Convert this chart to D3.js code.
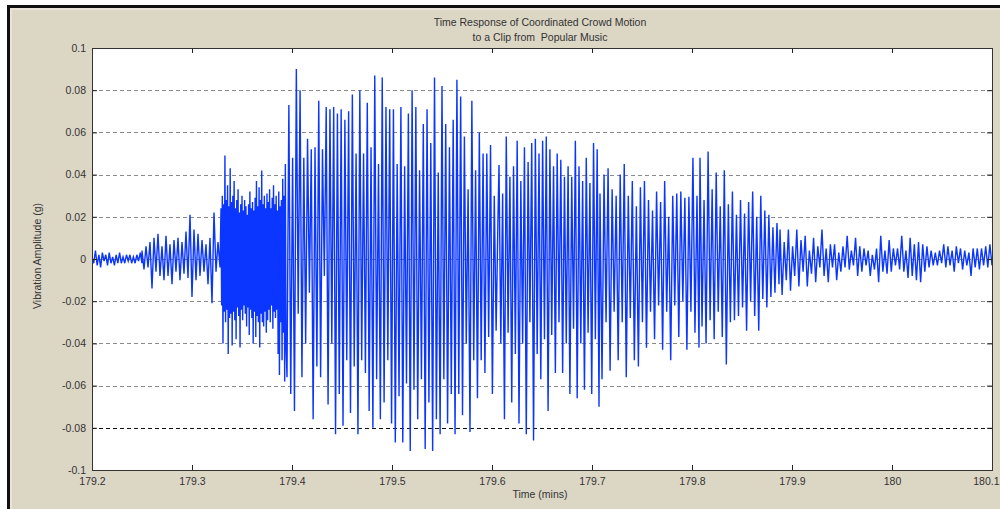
<!DOCTYPE html>
<html>
<head>
<meta charset="utf-8">
<script src="https://cdn.jsdelivr.net/npm/d3@7"></script>
<style>
  html, body { margin: 0; padding: 0; background: #ffffff; }
  svg { display: block; }
  text { font-family: "Liberation Sans", Arial, Helvetica, sans-serif; fill: #333333; white-space: pre; }
</style>
</head>
<body>
<svg id="chart" width="1000" height="509"></svg>
<script>
// ---- Recorded accelerometer trace, stored as successive extrema (g) per time span (mins) ----
const quietSpan = [179.200, 179.250];
const quietAmp = [0.001,-0.002,0.004,-0.003,0.002,-0.004,0.003,-0.001,0.002,-0.003,0.003,-0.002,0.001,-0.003,0.002,
  -0.002,0.003,-0.002,0.001,-0.002,0.002,-0.001,0.002,-0.002,0.001,-0.002,0.002,-0.001,0.003,-0.002];

const onsetSpan = [179.250, 179.328];
const onsetAmp = [0.004,-0.005,0.006,-0.004,0.008,-0.014,0.010,-0.006,0.012,-0.008,0.006,-0.010,0.011,-0.008,0.007,
  -0.012,0.009,-0.006,0.010,-0.010,0.008,-0.007,0.013,-0.009,0.021,-0.018,0.014,-0.010,0.012,-0.008,0.009,-0.006,
  0.007,-0.012,0.010,-0.021,0.022,-0.006,0.008,-0.004];

const burstSpan = [179.329, 179.394];
const burstAmp = [0.024,-0.022,0.030,-0.040,0.026,-0.025,0.049,-0.030,0.028,-0.024,0.035,-0.045,0.025,-0.028,
  0.043,-0.026,0.027,-0.041,0.030,-0.025,0.037,-0.029,0.024,-0.038,0.028,-0.023,0.033,-0.027,0.022,-0.042,
  0.026,-0.024,0.030,-0.029,0.023,-0.022,0.028,-0.026,0.025,-0.032,0.021,-0.023,0.026,-0.036,0.032,-0.024,
  0.024,-0.028,0.027,-0.040,0.023,-0.025,0.029,-0.037,0.037,-0.027,0.025,-0.030,0.034,-0.042,0.028,-0.026,
  0.042,-0.030,0.026,-0.032,0.030,-0.025,0.024,-0.035,0.031,-0.029,0.027,-0.024,0.033,-0.030,0.024,-0.022,
  0.029,-0.033,0.035,-0.025,0.026,-0.028,0.030,-0.024,0.023,-0.045,0.032,-0.055,0.025,-0.030,0.028,-0.048,
  0.038,-0.035,0.030,-0.058,0.045,-0.040];

const swaySpanA = [179.395, 179.606];
const swayAmpA = [-0.056,0.073,-0.064,0.048,-0.072,0.090,-0.026,0.080,-0.056,0.048,-0.040,0.057,-0.016,0.052,
  -0.076,0.053,-0.051,0.075,-0.056,0.052,-0.008,0.072,-0.069,0.071,-0.040,0.072,-0.083,0.069,-0.064,0.071,
  -0.079,0.066,-0.048,0.070,-0.073,0.078,-0.051,0.050,-0.083,0.080,-0.048,0.050,-0.054,0.074,-0.072,0.053,
  -0.080,0.087,-0.057,0.045,-0.076,0.086,-0.068,0.072,-0.048,0.071,-0.078,0.071,-0.087,0.045,-0.065,0.072,
  -0.087,0.044,-0.059,0.069,-0.091,0.080,-0.062,0.072,-0.076,0.042,-0.057,0.064,-0.090,0.071,-0.068,0.055,
  -0.091,0.086,-0.076,0.041,-0.083,0.082,-0.057,0.064,-0.078,0.053,-0.064,0.066,-0.083,0.085,-0.064,0.077,
  -0.074,0.058,-0.040,0.033,-0.082,0.075,-0.048,0.042,-0.066,0.060,-0.048,0.050,-0.054,0.050,-0.037,0.054,
  -0.064,0.030,-0.034,0.020];

const swaySpanB = [179.607, 179.707];
const swayAmpB = [0.0445,-0.040,0.031,-0.076,0.058,-0.035,0.039,-0.068,0.044,-0.045,0.056,-0.078,0.037,-0.040,
  0.053,-0.083,0.046,-0.030,0.055,-0.086,0.057,-0.045,0.050,-0.057,0.056,-0.038,0.058,-0.072,0.052,-0.036,
  0.044,-0.054,0.050,-0.030,0.047,-0.054,0.039,-0.040,0.044,-0.064,0.039,-0.033,0.056,-0.066,0.044,-0.040,
  0.037,-0.062,0.048,-0.035,0.036,-0.064,0.055,-0.038,0.052,-0.070];

const swaySpanC = [179.708, 179.807];
const swayAmpC = [0.031,-0.057,0.040,-0.030,0.043,-0.053,0.033,-0.025,0.030,-0.048,0.040,-0.030,0.045,-0.056,
  0.030,-0.028,0.037,-0.048,0.025,-0.051,0.034,-0.030,0.037,-0.042,0.028,-0.025,0.023,-0.038,0.032,-0.022,
  0.027,-0.043,0.037,-0.025,0.020,-0.048,0.030,-0.022,0.031,-0.037,0.032,-0.020,0.029,-0.043,0.0295,-0.025,
  0.048,-0.035,0.030,-0.042];

const swaySpanD = [179.808, 179.887];
const swayAmpD = [0.048,-0.032,0.028,-0.040,0.051,-0.029,0.033,-0.038,0.041,-0.025,0.025,-0.037,0.042,-0.050,
  0.026,-0.030,0.032,-0.029,0.021,-0.027,0.028,-0.023,0.0215,-0.034,0.027,-0.020,0.032,-0.027,0.020,-0.034,
  0.030,-0.019,0.023,-0.023,0.021,-0.018,0.015,-0.016,0.017,-0.012];

const tailSpan = [179.888, 180.100];
const tailAmp = [0.014,-0.017,0.008,-0.010,0.014,-0.015,0.006,-0.008,0.014,-0.013,0.009,-0.006,0.011,-0.013,
  0.004,-0.007,0.010,-0.011,0.006,-0.004,0.014,-0.008,0.005,-0.011,0.007,-0.004,0.007,-0.010,0.003,-0.006,
  0.006,-0.004,0.011,-0.005,0.004,-0.003,0.010,-0.008,0.006,-0.006,0.005,-0.003,0.004,-0.008,0.002,-0.005,
  0.005,-0.011,0.011,-0.006,0.004,-0.007,0.009,-0.006,0.005,-0.003,0.005,-0.005,0.011,-0.006,0.004,-0.009,
  0.010,-0.008,0.007,-0.010,0.008,-0.011,0.007,-0.006,0.006,-0.004,0.004,-0.003,0.003,-0.003,0.004,-0.002,
  0.007,-0.004,0.006,-0.003,0.004,-0.006,0.006,-0.002,0.005,-0.005,0.004,-0.003,0.003,-0.008,0.005,-0.004,
  0.005,-0.005,0.005,-0.003,0.006,-0.004,0.007,-0.003];

// ---- Axis ticks ----
const xTicks = [179.2, 179.3, 179.4, 179.5, 179.6, 179.7, 179.8, 179.9, 180.0, 180.1];
const xTickLabels = ["179.2", "179.3", "179.4", "179.5", "179.6", "179.7", "179.8", "179.9", "180", "180.1"];
const yTicks = [0.1, 0.08, 0.06, 0.04, 0.02, 0, -0.02, -0.04, -0.06, -0.08, -0.1];
const yTickLabels = ["0.1", "0.08", "0.06", "0.04", "0.02", "0", "-0.02", "-0.04", "-0.06", "-0.08", "-0.1"];

const titleLines = ["Time Response of Coordinated Crowd Motion", "to a Clip from  Popular Music"];
const xTitle = "Time (mins)";
const yTitle = "Vibration Amplitude (g)";

// ---- Build the sampled series: extrema spread evenly across each span ----
function spread(span, amps) {
  const n = amps.length;
  return amps.map((v, i) => ({ t: span[0] + (span[1] - span[0]) * i / (n - 1), v }));
}
const series = [].concat(
  spread(quietSpan, quietAmp),
  spread(onsetSpan, onsetAmp),
  spread(burstSpan, burstAmp),
  spread(swaySpanA, swayAmpA),
  spread(swaySpanB, swayAmpB),
  spread(swaySpanC, swayAmpC),
  spread(swaySpanD, swayAmpD),
  spread(tailSpan, tailAmp)
);

// ---- Layout ----
const svg = d3.select("#chart");
const W = 1000, H = 509;
const plot = { left: 92, right: 992, top: 48, bottom: 470 };

// figure window background with dark frame on top and left
svg.append("rect").attr("x", 0).attr("y", 0).attr("width", W).attr("height", H).attr("fill", "#ffffff");
svg.append("rect").attr("x", 7).attr("y", 5).attr("width", W - 7).attr("height", H - 5).attr("fill", "#111111");
svg.append("rect").attr("x", 10).attr("y", 8).attr("width", W - 10).attr("height", H - 8).attr("fill", "#dcd6c5");
svg.append("rect").attr("x", 10).attr("y", 8).attr("width", W - 10).attr("height", 2).attr("fill", "#e9e4d7");
svg.append("rect").attr("x", 10).attr("y", 8).attr("width", 2).attr("height", H - 8).attr("fill", "#e9e4d7");

const x = d3.scaleLinear().domain([179.2, 180.1]).range([plot.left, plot.right]);
const y = d3.scaleLinear().domain([-0.1, 0.1]).range([plot.bottom, plot.top]);

// axes area
svg.append("rect")
  .attr("x", plot.left).attr("y", plot.top)
  .attr("width", plot.right - plot.left).attr("height", plot.bottom - plot.top)
  .attr("fill", "#ffffff");

// horizontal dashed grid
svg.append("g").selectAll("line")
  .data(yTicks.filter(d => Math.abs(d) < 0.099))
  .join("line")
  .attr("x1", plot.left).attr("x2", plot.right)
  .attr("y1", d => Math.round(y(d)) + 0.5).attr("y2", d => Math.round(y(d)) + 0.5)
  .attr("stroke", d => Math.abs(d + 0.08) < 1e-9 ? "#111111" : "#8a8a8a")
  .attr("stroke-width", 1)
  .attr("stroke-dasharray", "4,3");

// clip for the trace
svg.append("defs").append("clipPath").attr("id", "plotClip")
  .append("rect").attr("x", plot.left).attr("y", plot.top)
  .attr("width", plot.right - plot.left).attr("height", plot.bottom - plot.top);

const line = d3.line().x(d => x(d.t)).y(d => y(d.v));
svg.append("path")
  .datum(series)
  .attr("clip-path", "url(#plotClip)")
  .attr("d", line)
  .attr("fill", "none")
  .attr("stroke", "#0a36ff")
  .attr("stroke-width", 1.4)
  .attr("stroke-linejoin", "miter")
  .attr("stroke-miterlimit", 4);

// axes with inward ticks
const fmtX = d => xTickLabels[xTicks.findIndex(v => Math.abs(v - d) < 1e-9)];
const fmtY = d => yTickLabels[yTicks.findIndex(v => Math.abs(v - d) < 1e-9)];

const axBottom = svg.append("g").attr("transform", `translate(0,${plot.bottom})`)
  .call(d3.axisBottom(x).tickValues(xTicks).tickFormat(fmtX).tickSizeInner(-5).tickSizeOuter(0).tickPadding(8));
const axTop = svg.append("g").attr("transform", `translate(0,${plot.top})`)
  .call(d3.axisTop(x).tickValues(xTicks).tickFormat("").tickSizeInner(-5).tickSizeOuter(0));
const axLeft = svg.append("g").attr("transform", `translate(${plot.left},0)`)
  .call(d3.axisLeft(y).tickValues(yTicks).tickFormat(fmtY).tickSizeInner(-5).tickSizeOuter(0).tickPadding(6));
const axRight = svg.append("g").attr("transform", `translate(${plot.right},0)`)
  .call(d3.axisRight(y).tickValues(yTicks).tickFormat("").tickSizeInner(-5).tickSizeOuter(0));

[axBottom, axTop, axLeft, axRight].forEach(g => {
  g.select(".domain").remove();
  g.selectAll(".tick line").attr("stroke", "#222222");
  g.selectAll("text").attr("font-size", 10.5).attr("fill", "#333333")
    .attr("font-family", '"Liberation Sans", Arial, sans-serif');
});

// the last time label sits against the window edge, so it is right-aligned there
axBottom.selectAll(".tick").filter(d => Math.abs(d - 180.1) < 1e-9)
  .select("text").attr("text-anchor", "end").attr("x", W - 1 - plot.right);

// axes box
svg.append("rect")
  .attr("x", plot.left + 0.5).attr("y", plot.top + 0.5)
  .attr("width", plot.right - plot.left).attr("height", plot.bottom - plot.top)
  .attr("fill", "none").attr("stroke", "#333333").attr("stroke-width", 1);

// titles
svg.append("g").selectAll("text").data(titleLines).join("text")
  .attr("x", 540).attr("y", (d, i) => 26 + i * 15)
  .attr("text-anchor", "middle").attr("font-size", 10.5)
  .text(d => d);

svg.append("text")
  .attr("x", 540).attr("y", 498)
  .attr("text-anchor", "middle").attr("font-size", 10.5)
  .text(xTitle);

svg.append("text")
  .attr("transform", `translate(41,256) rotate(-90)`)
  .attr("text-anchor", "middle").attr("font-size", 10.5)
  .text(yTitle);
</script>
</body>
</html>
